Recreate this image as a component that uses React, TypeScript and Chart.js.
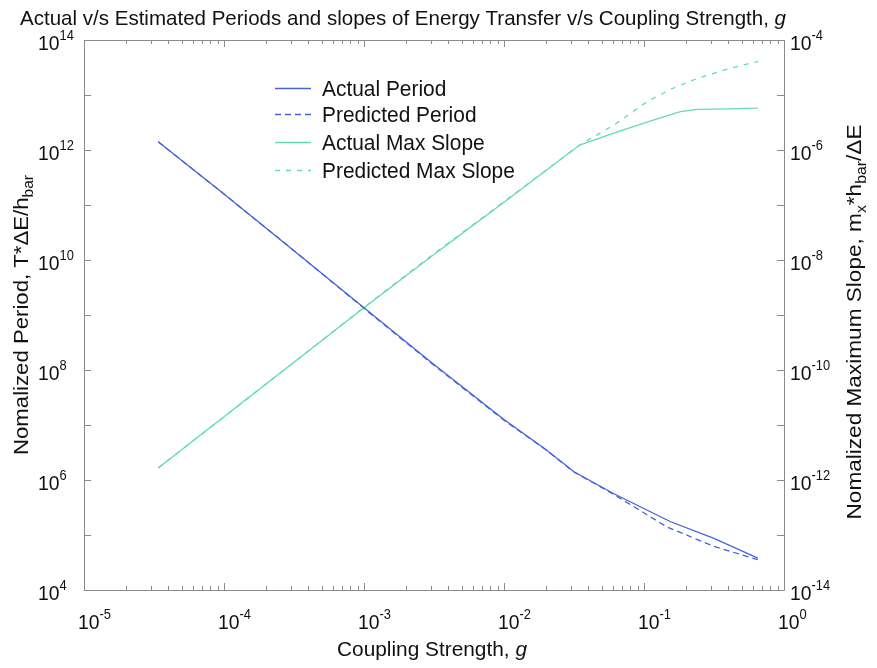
import React, { useEffect, useRef } from "react";
import { Chart, registerables } from "chart.js";

Chart.register(...registerables);

// Coupling strength g and the four curves
const periodG = [3.39e-5, 1e-4, 3.16e-4, 1e-3, 3.16e-3, 1e-2, 2.0e-2, 3.16e-2, 6.0e-2, 0.155, 0.316, 0.65];
const actualPeriod = [1.41e12, 1.58e11, 1.48e10, 1.35e9, 1.26e8, 1.26e7, 3.55e6, 1.41e6, 5.75e5, 1.74e5, 8.7e4, 3.8e4];

const predPeriodG = [3.39e-5, 1e-4, 3.16e-4, 1e-3, 3.16e-3, 1e-2, 2.0e-2, 3.16e-2, 6.0e-2, 0.145, 0.316, 0.65];
const predictedPeriod = [1.41e12, 1.58e11, 1.48e10, 1.32e9, 1.22e8, 1.22e7, 3.5e6, 1.4e6, 5.6e5, 1.41e5, 6.2e4, 3.55e4];

const slopeG = [3.39e-5, 1e-4, 3.16e-4, 1e-3, 3.16e-3, 1e-2, 3.47e-2, 6.3e-2, 0.112, 0.182, 0.24, 0.4, 0.65];
const actualSlope = [1.66e-12, 1.41e-11, 1.38e-10, 1.35e-9, 1.26e-8, 1.12e-7, 1.23e-6, 2.09e-6, 3.39e-6, 5.0e-6, 5.5e-6, 5.6e-6, 5.75e-6];

const predSlopeG = [3.39e-5, 1e-4, 3.16e-4, 1e-3, 3.16e-3, 1e-2, 3.47e-2, 6.3e-2, 0.105, 0.158, 0.24, 0.4, 0.65];
const predictedSlope = [1.66e-12, 1.41e-11, 1.38e-10, 1.38e-9, 1.3e-8, 1.15e-7, 1.23e-6, 3.0e-6, 7.6e-6, 1.3e-5, 2.0e-5, 3.0e-5, 4.07e-5];

// Decade exponents used for axis labels
const xTickExps = [-5, -4, -3, -2, -1, 0];
const leftTickExps = [4, 6, 8, 10, 12, 14];
const rightTickExps = [-14, -12, -10, -8, -6, -4];

const seriesLabels = ["Actual Period", "Predicted Period", "Actual Max Slope", "Predicted Max Slope"];

const BLUE = "#4464d8";
const GREEN = "#64dab4";
const AXIS = "#8a8a8a";
const FONT = "'Liberation Sans', Arial, sans-serif";

type Seg = { t: string; size: number; dy?: number; italic?: boolean };

function segFont(s: Seg) {
  return `${s.italic ? "italic " : ""}${s.size}px ${FONT}`;
}

function richWidth(ctx: CanvasRenderingContext2D, segs: Seg[]) {
  let w = 0;
  for (const s of segs) {
    ctx.font = segFont(s);
    w += ctx.measureText(s.t).width;
  }
  return w;
}

function drawRich(
  ctx: CanvasRenderingContext2D,
  segs: Seg[],
  x: number,
  y: number,
  align: "left" | "center",
  fitWidth?: number,
  scaleX?: number
) {
  const w = richWidth(ctx, segs);
  const sx = fitWidth ? fitWidth / w : scaleX || 1;
  ctx.save();
  ctx.translate(x, y);
  ctx.scale(sx, 1);
  let cx = align === "center" ? -w / 2 : 0;
  ctx.textAlign = "left";
  ctx.textBaseline = "alphabetic";
  for (const s of segs) {
    ctx.font = segFont(s);
    ctx.fillText(s.t, cx, s.dy || 0);
    cx += ctx.measureText(s.t).width;
  }
  ctx.restore();
}

const pow = (e: number): Seg[] => [
  { t: "10", size: 21 },
  { t: String(e), size: 14, dy: -10 },
];

const decorations = {
  id: "decorations",
  afterDatasetsDraw(chart: any) {
    const ctx: CanvasRenderingContext2D = chart.ctx;
    const { left, right, top, bottom } = chart.chartArea;
    const xs = chart.scales.x;
    const yl = chart.scales.y;
    const yr = chart.scales.y2;
    ctx.save();
    ctx.fillStyle = "#111";

    // frame and ticks
    ctx.strokeStyle = AXIS;
    ctx.lineWidth = 1;
    ctx.beginPath();
    ctx.rect(left + 0.5, top + 0.5, right - left, bottom - top);
    ctx.stroke();
    ctx.beginPath();
    for (let e = -5; e <= 0; e++) {
      for (let m = 1; m <= 9; m++) {
        const v = m * Math.pow(10, e);
        if (v > 1) break;
        const px = Math.round(xs.getPixelForValue(v)) + 0.5;
        const len = m === 1 ? 7 : 4;
        ctx.moveTo(px, bottom);
        ctx.lineTo(px, bottom - len);
        ctx.moveTo(px, top);
        ctx.lineTo(px, top + len);
      }
    }
    for (let e = 4; e <= 14; e++) {
      const py = Math.round(yl.getPixelForValue(Math.pow(10, e))) + 0.5;
      ctx.moveTo(left, py);
      ctx.lineTo(left + 7, py);
    }
    for (let e = -14; e <= -4; e++) {
      const py = Math.round(yr.getPixelForValue(Math.pow(10, e))) + 0.5;
      ctx.moveTo(right, py);
      ctx.lineTo(right - 7, py);
    }
    ctx.stroke();

    // tick labels
    for (const e of xTickExps) {
      const px = xs.getPixelForValue(Math.pow(10, e));
      drawRich(ctx, pow(e), px - 6, bottom + 39, "left", undefined, 0.92);
    }
    for (const e of leftTickExps) {
      const py = yl.getPixelForValue(Math.pow(10, e));
      drawRich(ctx, pow(e), 38, py + 10, "left", undefined, 0.92);
    }
    for (const e of rightTickExps) {
      const py = yr.getPixelForValue(Math.pow(10, e));
      drawRich(ctx, pow(e), right + 6, py + 10, "left", undefined, 0.92);
    }

    // title
    drawRich(
      ctx,
      [
        { t: "Actual v/s Estimated Periods and slopes of Energy Transfer v/s Coupling Strength, ", size: 21 },
        { t: "g", size: 21, italic: true },
      ],
      20,
      25,
      "left",
      766
    );

    // x axis title
    drawRich(
      ctx,
      [
        { t: "Coupling Strength, ", size: 20 },
        { t: "g", size: 20, italic: true },
      ],
      432,
      656,
      "center",
      190
    );

    // left axis title
    ctx.save();
    ctx.translate(28, 315);
    ctx.rotate(-Math.PI / 2);
    drawRich(
      ctx,
      [
        { t: "Nomalized Period, T*\u0394E/h", size: 20 },
        { t: "bar", size: 14, dy: 5 },
      ],
      0,
      0,
      "center",
      280
    );
    ctx.restore();

    // right axis title
    ctx.save();
    ctx.translate(861, 322);
    ctx.rotate(-Math.PI / 2);
    drawRich(
      ctx,
      [
        { t: "Nomalized Maximum Slope, m", size: 20 },
        { t: "x", size: 14, dy: 5 },
        { t: "*h", size: 20 },
        { t: "bar", size: 14, dy: 5 },
        { t: "/\u0394E", size: 20 },
      ],
      0,
      0,
      "center",
      395
    );
    ctx.restore();

    // legend
    const rows = [88, 114, 142, 170];
    chart.data.datasets.forEach((ds: any, i: number) => {
      const y = rows[i];
      ctx.save();
      ctx.strokeStyle = ds.borderColor;
      ctx.lineWidth = ds.borderWidth;
      ctx.setLineDash(ds.borderDash || []);
      ctx.beginPath();
      ctx.moveTo(275, y + 0.5);
      ctx.lineTo(311, y + 0.5);
      ctx.stroke();
      ctx.restore();
      ctx.fillStyle = "#111";
      drawRich(ctx, [{ t: seriesLabels[i], size: 22 }], 322, y + 8, "left", undefined, 0.95);
    });

    ctx.restore();
  },
};

function pts(xsArr: number[], ysArr: number[]) {
  return xsArr.map((x, i) => ({ x, y: ysArr[i] }));
}

export default function App() {
  const ref = useRef<HTMLCanvasElement>(null);
  useEffect(() => {
    if (!ref.current) return;
    const line = (
      label: string,
      data: any[],
      color: string,
      axis: string,
      dash?: number[]
    ) => ({
      label,
      data,
      borderColor: color,
      backgroundColor: color,
      borderWidth: 1.3,
      borderDash: dash,
      pointRadius: 0,
      showLine: true,
      fill: false,
      tension: 0,
      yAxisID: axis,
    });
    const chart = new Chart(ref.current, {
      type: "scatter",
      data: {
        datasets: [
          line(seriesLabels[0], pts(periodG, actualPeriod), BLUE, "y"),
          line(seriesLabels[1], pts(predPeriodG, predictedPeriod), BLUE, "y", [6, 4]),
          line(seriesLabels[2], pts(slopeG, actualSlope), GREEN, "y2"),
          line(seriesLabels[3], pts(predSlopeG, predictedSlope), GREEN, "y2", [5, 6]),
        ],
      },
      options: {
        responsive: false,
        animation: false,
        layout: { padding: { left: 84, top: 40, right: 93, bottom: 78 } },
        plugins: { legend: { display: false }, tooltip: { enabled: false }, title: { display: false } },
        scales: {
          x: { type: "logarithmic", min: 1e-5, max: 1, display: false },
          y: { type: "logarithmic", min: 1e4, max: 1e14, display: false },
          y2: { type: "logarithmic", min: 1e-14, max: 1e-4, display: false },
        },
      },
      plugins: [decorations],
    });
    return () => chart.destroy();
  }, []);
  return (
    <div style={{ position: "fixed", left: 0, top: 0, width: 877, height: 668, background: "#fff" }}>
      <canvas ref={ref} width={877} height={668} />
    </div>
  );
}
